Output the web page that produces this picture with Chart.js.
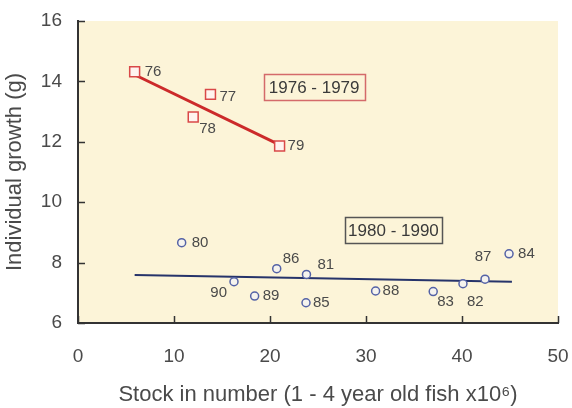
<!DOCTYPE html>
<html>
<head>
<meta charset="utf-8">
<script src="https://cdn.jsdelivr.net/npm/chart.js@4/dist/chart.umd.min.js"></script>
<style>
  html, body { margin: 0; padding: 0; background: #ffffff; }
  #wrap { width: 572px; height: 408px; }
</style>
</head>
<body>
<div id="wrap"><canvas id="c" width="572" height="408"></canvas></div>
<script>
// 1976-1979: stock (1-4 year old fish, x10^6) and individual growth (g)
const years7679 = ['76', '77', '78', '79'];
const stock7679 = [5.9, 13.8, 12.0, 21.0];
const growth7679 = [14.32, 13.57, 12.82, 11.86];
const fit7679X = [5.9, 21.0];
const fit7679Y = [14.22, 11.9];

// 1980-1990
const years8090 = ['80', '81', '82', '83', '84', '85', '86', '87', '88', '89', '90'];
const stock8090 = [10.8, 23.8, 40.1, 37.0, 44.9, 23.75, 20.7, 42.4, 31.0, 18.4, 16.25];
const growth8090 = [8.66, 7.61, 7.30, 7.04, 8.29, 6.67, 7.80, 7.45, 7.06, 6.89, 7.37];
const fit8090X = [5.9, 45.2];
const fit8090Y = [7.59, 7.37];

const xTicks = [0, 10, 20, 30, 40, 50];
const yTicks = [6, 8, 10, 12, 14, 16];

const FONT = '"Liberation Sans", Arial, sans-serif';
const TEXT = '#4a4a4a';

// where each year label sits relative to its marker: [dx, dy, align]
const labelPlace = {
  '76': [10, 0, 'left'], '77': [9, 2, 'left'], '78': [6, 12, 'left'], '79': [8, 0, 'left'],
  '80': [10, 0, 'left'], '81': [11, -10, 'left'], '82': [4, 18, 'left'], '83': [4, 10, 'left'],
  '84': [9, 0, 'left'], '85': [7, 0, 'left'], '86': [6, -10, 'left'], '87': [-2, -22, 'center'],
  '88': [7, 0, 'left'], '89': [8, 0, 'left'], '90': [-7, 11, 'right']
};

// period boxes, anchored at data coordinates
const periodBoxes = [
  { text: '1976 - 1979', x: 24.6, y: 13.81, w: 101, h: 26, border: '#d46a6a' },
  { text: '1980 - 1990', x: 32.86, y: 9.08, w: 97, h: 26, border: '#555555' }
];

const toXY = (xs, ys) => xs.map((x, i) => ({ x: x, y: ys[i] }));

const plotBackground = {
  id: 'plotBackground',
  beforeDraw(chart) {
    const { ctx, chartArea: a } = chart;
    ctx.save();
    ctx.fillStyle = '#fcf4d8';
    ctx.fillRect(a.left, a.top, a.right - a.left, a.bottom - a.top);
    ctx.restore();
  }
};

const innerTicks = {
  id: 'innerTicks',
  afterDraw(chart) {
    const { ctx, chartArea: a, scales } = chart;
    ctx.save();
    ctx.strokeStyle = '#333333';
    ctx.lineWidth = 1.5;
    ctx.beginPath();
    yTicks.forEach(v => {
      const py = Math.round(scales.y.getPixelForValue(v)) + 0.5;
      ctx.moveTo(a.left, py);
      ctx.lineTo(a.left + 7, py);
    });
    xTicks.forEach(v => {
      const px = Math.round(scales.x.getPixelForValue(v)) + 0.5;
      ctx.moveTo(px, a.bottom);
      ctx.lineTo(px, a.bottom - 7);
    });
    ctx.stroke();
    ctx.restore();
  }
};

const pointLabels = {
  id: 'pointLabels',
  afterDatasetsDraw(chart) {
    const { ctx, scales } = chart;
    ctx.save();
    ctx.font = '15px ' + FONT;
    ctx.fillStyle = TEXT;
    ctx.textBaseline = 'middle';
    const put = (years, xs, ys) => {
      years.forEach((yr, i) => {
        const p = labelPlace[yr];
        const px = scales.x.getPixelForValue(xs[i]);
        const py = scales.y.getPixelForValue(ys[i]);
        ctx.textAlign = p[2];
        ctx.fillText(yr, px + p[0], py + p[1]);
      });
    };
    put(years7679, stock7679, growth7679);
    put(years8090, stock8090, growth8090);
    ctx.restore();
  }
};

const periodLabels = {
  id: 'periodLabels',
  afterDatasetsDraw(chart) {
    const { ctx, scales } = chart;
    ctx.save();
    periodBoxes.forEach(b => {
      const cx = scales.x.getPixelForValue(b.x);
      const cy = scales.y.getPixelForValue(b.y);
      ctx.strokeStyle = b.border;
      ctx.lineWidth = 1.5;
      ctx.strokeRect(Math.round(cx - b.w / 2) + 0.5, Math.round(cy - b.h / 2) + 0.5, b.w, b.h);
      ctx.font = '17px ' + FONT;
      ctx.fillStyle = '#3a3a3a';
      ctx.textAlign = 'center';
      ctx.textBaseline = 'middle';
      ctx.fillText(b.text, cx, cy + 1);
    });
    ctx.restore();
  }
};

// keep the plot frame fixed: no extra room reserved for edge labels
const noEdgePadding = s => {
  s.paddingLeft = 0; s.paddingRight = 0; s.paddingTop = 0; s.paddingBottom = 0;
};

new Chart(document.getElementById('c'), {
  type: 'scatter',
  data: {
    datasets: [
      {
        label: '1976 - 1979',
        data: toXY(stock7679, growth7679),
        pointStyle: 'rect',
        pointRadius: 7,
        borderWidth: 1.5,
        borderColor: '#d94848',
        backgroundColor: '#fff3ef',
        order: 0
      },
      {
        label: '1980 - 1990',
        data: toXY(stock8090, growth8090),
        pointStyle: 'circle',
        pointRadius: 4,
        borderWidth: 1.5,
        borderColor: '#5462a6',
        backgroundColor: '#f5f3ee',
        order: 0
      },
      {
        label: 'trend 1976 - 1979',
        data: toXY(fit7679X, fit7679Y),
        showLine: true,
        pointRadius: 0,
        borderColor: '#cc2a2a',
        borderWidth: 3,
        order: 1
      },
      {
        label: 'trend 1980 - 1990',
        data: toXY(fit8090X, fit8090Y),
        showLine: true,
        pointRadius: 0,
        borderColor: '#26336a',
        borderWidth: 2,
        order: 1
      }
    ]
  },
  options: {
    responsive: false,
    animation: false,
    devicePixelRatio: 1,
    layout: { autoPadding: false, padding: { top: 21, right: 14, left: 0, bottom: 0 } },
    plugins: { legend: { display: false }, tooltip: { enabled: false } },
    scales: {
      x: {
        type: 'linear',
        min: 0, max: 50,
        afterBuildTicks: s => { s.ticks = xTicks.map(v => ({ value: v })); },
        afterFit: s => { s.height = 85; noEdgePadding(s); },
        grid: { display: false, drawTicks: false },
        border: { display: true, color: '#333333', width: 2 },
        ticks: { font: { family: FONT, size: 19 }, color: TEXT, padding: 22 },
        title: {
          display: true,
          text: 'Stock in number (1 - 4 year old fish x10\u2076)',
          font: { family: FONT, size: 22 }, color: TEXT,
          padding: { top: 0, bottom: 0 }
        }
      },
      y: {
        type: 'linear',
        min: 6, max: 16,
        afterBuildTicks: s => { s.ticks = yTicks.map(v => ({ value: v })); },
        afterFit: s => { s.width = 78; noEdgePadding(s); },
        grid: { display: false, drawTicks: false },
        border: { display: true, color: '#333333', width: 2 },
        ticks: { font: { family: FONT, size: 19 }, color: TEXT, padding: 16 },
        title: {
          display: true,
          text: 'Individual growth (g)',
          font: { family: FONT, size: 22 }, color: TEXT,
          padding: { top: 2, bottom: 0 }
        }
      }
    }
  },
  plugins: [plotBackground, innerTicks, pointLabels, periodLabels]
});
</script>
</body>
</html>
